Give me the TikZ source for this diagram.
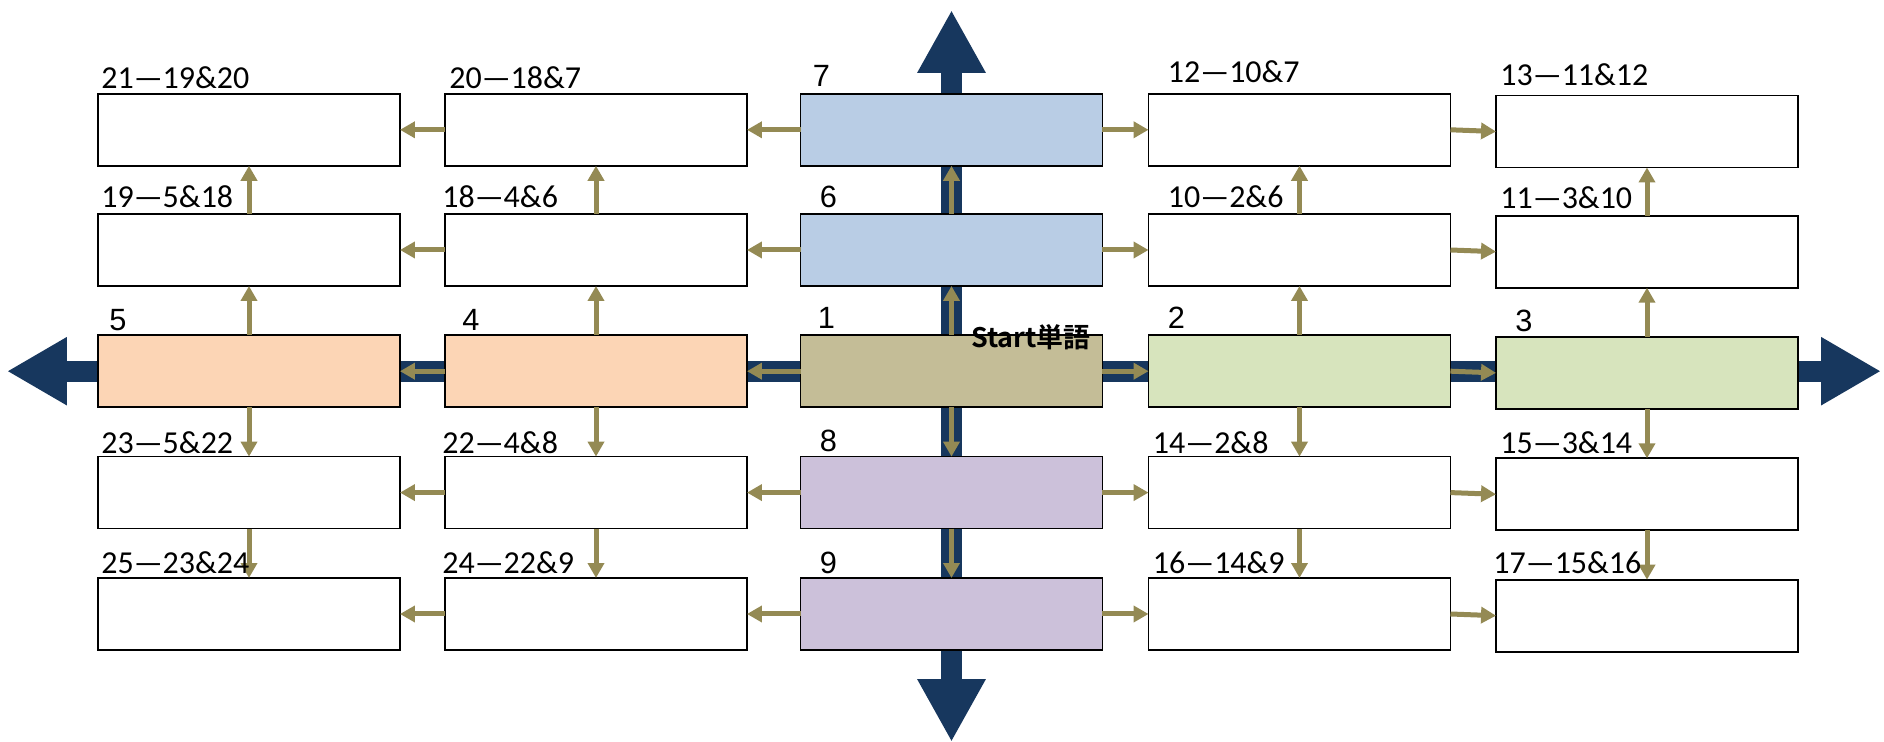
\documentclass[tikz,border=0pt]{standalone}
\usepackage{fontspec}
\setmainfont{Carlito}
\newfontfamily\digitfont{Liberation Sans}
\newfontfamily\cjkfont{Noto Sans CJK JP}[BoldFont={Noto Sans CJK JP Bold}]
\usetikzlibrary{arrows.meta,calc}
\definecolor{navy}{HTML}{17375E}
\definecolor{olivec}{HTML}{948A54}
\definecolor{cblue}{HTML}{B9CDE5}
\definecolor{cpeach}{HTML}{FCD5B5}
\definecolor{ckhaki}{HTML}{C4BD97}
\definecolor{cgreen}{HTML}{D7E4BD}
\definecolor{clav}{HTML}{CCC1DA}
\tikzset{
  wbox/.style={draw=black, line width=1pt, fill=white, minimum width=6.04cm, minimum height=1.44cm, inner sep=0pt, outer sep=0pt},
  lab/.style={anchor=base west, inner sep=0pt, font=\fontsize{18.2}{20}\selectfont},
  dlab/.style={anchor=base west, inner sep=0pt, font=\digitfont\fontsize{17.5}{20}\selectfont},
  oarr/.style={draw=olivec, line width=0.1cm, -{Triangle[length=0.3cm,width=0.32cm]}},
  bandh/.style={draw=navy, line width=0.42cm, -{Triangle[length=1.2cm,width=1.28cm]}},
  bandv/.style={draw=navy, line width=0.42cm, -{Triangle[length=1.26cm,width=1.28cm]}},
}
\begin{document}
\begin{tikzpicture}[x=0.02cm,y=-0.02cm]
\useasboundingbox (0,0) rectangle (1884,742);
% navy axes
\coordinate (c) at (951.5,371.2);
\coordinate (hl) at (7,371.2);
\coordinate (hr) at (1881,371.2);
\coordinate (vt) at (951.5,10);
\coordinate (vb) at (951.5,742);
\draw[bandh] (c) -- (hl);
\draw[bandh] (c) -- (hr);
\draw[bandv] (c) -- (vt);
\draw[bandv] (c) -- (vb);
% boxes row 1
\node[wbox] (n21) at (249,129.8) {};
\node[wbox] (n20) at (596,129.8) {};
\node[wbox,fill=cblue] (n7) at (951.5,129.8) {};
\node[wbox] (n12) at (1299.5,129.8) {};
\node[wbox] (n13) at (1647,131.5) {};
% row 2
\node[wbox] (n19) at (249,250) {};
\node[wbox] (n18) at (596,250) {};
\node[wbox,fill=cblue] (n6) at (951.5,250) {};
\node[wbox] (n10) at (1299.5,250) {};
\node[wbox] (n11) at (1647,251.7) {};
% row 3
\node[wbox,fill=cpeach] (n5) at (249,371.2) {};
\node[wbox,fill=cpeach] (n4) at (596,371.2) {};
\node[wbox,fill=ckhaki] (n1) at (951.5,371.2) {};
\node[wbox,fill=cgreen] (n2) at (1299.5,371.2) {};
\node[wbox,fill=cgreen] (n3) at (1647,372.9) {};
% row 4
\node[wbox] (n23) at (249,492.6) {};
\node[wbox] (n22) at (596,492.6) {};
\node[wbox,fill=clav] (n8) at (951.5,492.6) {};
\node[wbox] (n14) at (1299.5,492.6) {};
\node[wbox] (n15) at (1647,494.3) {};
% row 5
\node[wbox] (n25) at (249,614) {};
\node[wbox] (n24) at (596,614) {};
\node[wbox,fill=clav] (n9) at (951.5,614) {};
\node[wbox] (n16) at (1299.5,614) {};
\node[wbox] (n17) at (1647,615.7) {};
% horizontal olive arrows
\foreach \a/\b in {n7/n20,n20/n21,n6/n18,n18/n19,n1/n4,n4/n5,n8/n22,n22/n23,n9/n24,n24/n25}
  \draw[oarr] (\a.west) -- (\b.east);
\foreach \a/\b in {n7/n12,n12/n13,n6/n10,n10/n11,n1/n2,n2/n3,n8/n14,n14/n15,n9/n16,n16/n17}
  \draw[oarr] (\a.east) -- (\b.west);
% vertical olive arrows
\foreach \a/\b in {n5/n19,n19/n21,n4/n18,n18/n20,n1/n6,n6/n7,n2/n10,n10/n12,n3/n11,n11/n13}
  \draw[oarr] (\a.north) -- (\b.south);
\foreach \a/\b in {n5/n23,n23/n25,n4/n22,n22/n24,n1/n8,n8/n9,n2/n14,n14/n16,n3/n15,n15/n17}
  \draw[oarr] (\a.south) -- (\b.north);
% text labels
\node[lab] (l21) at ($(n21.north west)+(3,-5)$) {21—19\&20};
\node[lab] (l20) at ($(n20.north west)+(4,-5)$) {20—18\&7};
\node[lab] (l12) at ($(n12.north west)+(19,-11)$) {12—10\&7};
\node[lab] (l13) at ($(n13.north west)+(4,-10)$) {13—11\&12};
\node[lab] (l19) at ($(n19.north west)+(3,-6)$) {19—5\&18};
\node[lab] (l18) at ($(n18.north west)+(-3,-6)$) {18—4\&6};
\node[lab] (l10) at ($(n10.north west)+(19,-6)$) {10—2\&6};
\node[lab] (l11) at ($(n11.north west)+(4,-7)$) {11—3\&10};
\node[lab] (l23) at ($(n23.north west)+(3,-3.5)$) {23—5\&22};
\node[lab] (l22) at ($(n22.north west)+(-3,-3.5)$) {22—4\&8};
\node[lab] (l14) at ($(n14.north west)+(4,-3.5)$) {14—2\&8};
\node[lab] (l15) at ($(n15.north west)+(4,-4.5)$) {15—3\&14};
\node[lab] (l25) at ($(n25.north west)+(3,-5)$) {25—23\&24};
\node[lab] (l24) at ($(n24.north west)+(-3,-5)$) {24—22\&9};
\node[lab] (l16) at ($(n16.north west)+(4,-5)$) {16—14\&9};
\node[lab] (l17) at ($(n17.north west)+(-3,-6.5)$) {17—15\&16};
% digit labels
\node[dlab] (d7) at ($(n7.north west)+(12,-7)$) {7};
\node[dlab] (d6) at ($(n6.north west)+(19,-6)$) {6};
\node[dlab] (d1) at ($(n1.north west)+(17,-7)$) {1};
\node[dlab] (d5) at ($(n5.north west)+(11,-5)$) {5};
\node[dlab] (d4) at ($(n4.north west)+(17,-5)$) {4};
\node[dlab] (d2) at ($(n2.north west)+(19,-7)$) {2};
\node[dlab] (d3) at ($(n3.north west)+(19,-5)$) {3};
\node[dlab] (d8) at ($(n8.north west)+(19,-5)$) {8};
\node[dlab] (d9) at ($(n9.north west)+(19,-5)$) {9};
% start label
\node[anchor=base east, inner sep=0pt, font=\cjkfont\bfseries\fontsize{15.3}{18}\selectfont] (st) at (1091,348) {Start単語};
\end{tikzpicture}
\end{document}
